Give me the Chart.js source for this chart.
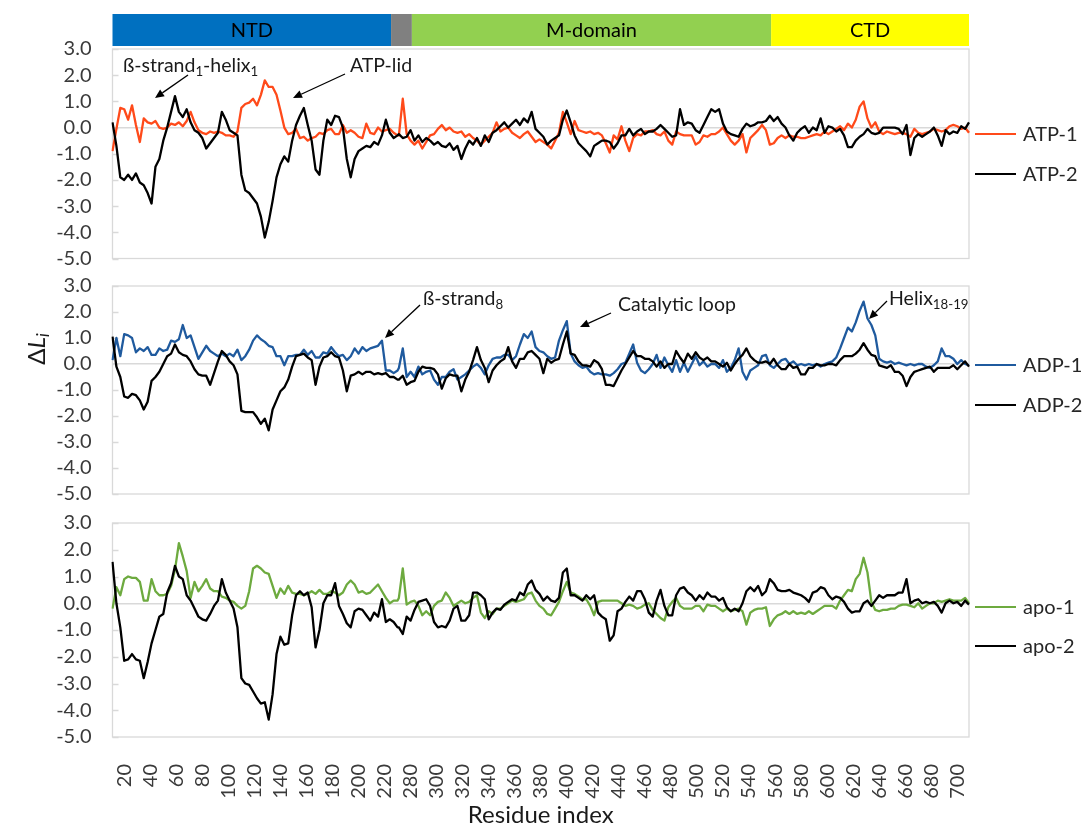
<!DOCTYPE html>
<html>
<head>
<meta charset="utf-8">
<script src="https://cdn.jsdelivr.net/npm/chart.js@4.4.1/dist/chart.umd.min.js"></script>
<style>
  html, body { margin: 0; padding: 0; background: #ffffff; }
  #wrap { position: relative; width: 1086px; height: 825px; background: #ffffff; overflow: hidden; }
  #wrap canvas { position: absolute; left: 0; }
</style>
</head>
<body>
<div id="wrap">
  <canvas id="panelATP" width="1086" height="300" style="top:0px"></canvas>
  <canvas id="panelADP" width="1086" height="300" style="top:240px"></canvas>
  <canvas id="panelApo" width="1086" height="345" style="top:480px"></canvas>
</div>
<script>
const FONT = 'Lato, "Open Sans", "DejaVu Sans", sans-serif';

// Residue numbering: the linker segment between the two ranges is not part of the profile
const segments = [[11, 230], [271, 709]];
// Profiles are tabulated at every third residue of each segment
const sampleStep = 3;

// Domain map drawn above the first panel (residue boundaries)
const domainNames  = ['NTD', '', 'M-domain', 'CTD'];
const domainStart  = [11, 225, 281, 557];
const domainEnd    = [225, 281, 557, 709];
const domainColors = ['#0070C0', '#808080', '#92D050', '#FFFF00'];

const yMin = -5, yMax = 3;

// ΔLi profiles (first 74 values: residues 11-230, next 147 values: residues 271-709)
const atp1 = [
  -0.9, -0.05, 0.75, 0.7, 0.3, 0.85, 0.1, -0.55, 0.35, 0.2,
  0.15, 0.25, 0.0, -0.05, 0.0, 0.15, 0.1, 0.2, 0.05, 0.25,
  0.6, 0.2, -0.1, -0.2, -0.25, -0.15, -0.2, -0.15, -0.2, -0.3,
  -0.3, -0.35, -0.15, 0.75, 0.9, 0.95, 1.1, 0.85, 1.25, 1.8,
  1.55, 1.55, 1.25, 0.65, 0.0, -0.25, -0.2, -0.05, -0.4, -0.35,
  -0.5, -0.4, -0.35, -0.2, -0.25, -0.1, -0.05, -0.25, -0.25, 0.1,
  -0.2, -0.1, -0.2, -0.35, -0.4, 0.15, -0.2, -0.25, 0.0, -0.15,
  -0.1, -0.05, -0.2, -0.3,
  -0.3, 1.1, -0.25, -0.5, -0.65, -0.5, -0.8, -0.55, -0.3, -0.25,
  -0.05, 0.1, -0.1, 0.0, -0.15, -0.2, -0.15, -0.35, -0.25, -0.4,
  -0.5, -0.65, -0.5, -0.35, -0.2, 0.2, -0.15, -0.05, 0.0, -0.2,
  -0.3, -0.4, -0.25, -0.15, -0.35, -0.55, -0.45,
  -0.55, -0.65, -0.8, -0.5, -0.2, 0.6, 0.2, -0.25, 0.25, -0.1,
  -0.15, -0.2, -0.15, -0.25, -0.2, -0.3, -0.6, -0.95, -0.3, -0.45,
  0.05, -0.5, -0.9, -0.4, -0.25, -0.3, -0.15, -0.15, -0.1, -0.25,
  -0.3, -0.15, -0.5, -0.65, -0.15, -0.25, -0.3, -0.3, -0.3, -0.65,
  -0.55, -0.3, -0.35, -0.25, -0.25, -0.15, 0.0, -0.25, -0.5, -0.65,
  -0.5, -0.25, -0.95, -0.4, -0.25, -0.1, 0.1, -0.1, -0.65, -0.6,
  -0.4, -0.3, -0.4, -0.3, -0.35, -0.35, -0.4, -0.4, -0.35, -0.3,
  -0.25, -0.3, -0.15, -0.25, -0.15, -0.05, 0.05, -0.1, 0.15, 0.0,
  0.3, 0.8, 1.0, 0.35, 0.0, 0.2, -0.15, -0.25, -0.15, -0.2,
  -0.25, -0.2, -0.2, -0.25, -0.35, -0.05, -0.2, -0.25, -0.2, -0.15,
  -0.05, -0.1, -0.15, -0.1, 0.05, 0.1, 0.05, -0.05, 0.0, -0.2
];
const atp2 = [
  0.2, -0.7, -1.9, -2.0, -1.8, -2.0, -1.75, -2.1, -2.2, -2.5,
  -2.9, -1.5, -1.2, -0.5, 0.0, 0.6, 1.2, 0.6, 0.4, 0.7,
  0.2, -0.1, -0.2, -0.4, -0.8, -0.6, -0.4, -0.2, 0.6, 0.3,
  -0.1, -0.2, -0.3, -1.8, -2.4, -2.5, -2.7, -2.9, -3.4, -4.2,
  -3.6, -2.8, -1.9, -1.4, -1.1, -1.3, -0.5, 0.1, 0.45, 0.75,
  0.1, -0.5, -1.6, -1.8, -0.5, 0.3, 0.1, 0.45, 0.4, 0.0,
  -1.2, -1.9, -1.2, -0.9, -0.8, -0.7, -0.75, -0.55, -0.65, -0.3,
  0.3, -0.2, -0.4, -0.3,
  -0.25, -0.4, -0.35, -0.1, -0.5, -0.3, -0.55, -0.4, -0.5, -0.65,
  -0.55, -0.7, -0.75, -0.6, -0.85, -0.7, -1.2, -0.8, -0.5, -0.65,
  -0.4, -0.7, -0.3, -0.55, -0.2, -0.1, 0.05, 0.2, 0.0, 0.15,
  0.3, 0.1, 0.35, 0.2, 0.6, -0.05, -0.2,
  -0.35, -0.65, -0.5, -0.4, -0.3, 0.3, 0.65, 0.2, -0.3, -0.6,
  -0.75, -0.9, -1.1, -0.7, -0.6, -0.5, -0.5, -0.55, -0.8, -0.6,
  -0.3, -0.3, -0.05, -0.3, -0.15, -0.05, -0.25, -0.15, -0.15, -0.05,
  0.1, -0.05, -0.2, -0.35, -0.3, 0.7, 0.1, 0.2, 0.15, -0.1,
  -0.2, 0.1, 0.4, 0.7, 0.6, 0.7, 0.15, -0.15, -0.25, -0.3,
  -0.35, -0.05, 0.15, 0.05, 0.1, 0.2, 0.2, 0.25, 0.45, 0.25,
  0.4, 0.15, 0.0, -0.3, -0.5, -0.2, -0.05, 0.05, -0.2, 0.0,
  -0.1, 0.35, -0.2, 0.05, 0.0, -0.15, -0.05, -0.3, -0.75, -0.75,
  -0.5, -0.35, -0.25, -0.05, -0.2, -0.25, -0.2, 0.0, 0.0, 0.0,
  0.0, -0.05, -0.25, 0.1, -1.05, -0.4, -0.25, -0.35, -0.25, -0.15,
  0.0, -0.3, -0.7, -0.1, -0.25, -0.15, -0.2, 0.05, -0.05, 0.2
];
const adp1 = [
  0.15, 1.0, 0.3, 1.15, 1.1, 1.0, 0.45, 0.6, 0.5, 0.65,
  0.35, 0.35, 0.6, 0.5, 0.55, 0.9, 0.85, 0.95, 1.5, 1.0,
  1.1, 0.65, 0.2, 0.45, 0.7, 0.5, 0.4, 0.3, 0.4, 0.3,
  0.4, 0.3, 0.55, 0.15, 0.3, 0.55, 0.9, 1.1, 0.95, 0.85,
  0.7, 0.65, 0.3, 0.3, -0.05, 0.3, 0.3, 0.35, 0.35, 0.55,
  0.35, 0.5, 0.25, 0.25, 0.45, 0.4, 0.65, 0.45, 0.3, 0.35,
  0.15, 0.3, 0.6, 0.4, 0.65, 0.5, 0.6, 0.65, 0.7, 0.9,
  -0.25, -0.25, -0.35, -0.25,
  -0.15, 0.6, -0.5, -0.3, -0.5, -0.1, -0.4, -0.3, -0.25, -0.6,
  -0.8, -0.5, -0.5, -0.3, -0.2, -0.6, -0.5, -0.4, -0.25, -0.1,
  0.0, -0.15, -0.4, -0.05, 0.2, 0.25, 0.25, 0.35, 0.35, 0.15,
  0.3, 0.75, 1.15, 1.0, 1.25, 0.65, 0.5,
  0.45, 0.3, 0.2, 0.25, 0.9, 1.3, 1.65, 0.4, 0.1, -0.05,
  -0.15, -0.1, -0.3, -0.4, -0.35, -0.4, -0.4, -0.45, -0.35, -0.2,
  0.0, 0.05, 0.4, 0.75, 0.05, -0.25, -0.35, -0.2, 0.0, 0.35,
  -0.15, 0.25, -0.05, -0.3, 0.15, -0.3, 0.05, -0.3, 0.0, 0.3,
  -0.05, 0.1, -0.1, 0.0, 0.0, -0.15, 0.15, -0.3, -0.15, 0.15,
  0.6, -0.3, -0.6, -0.25, -0.15, -0.05, 0.3, 0.35, -0.05, -0.15,
  0.0, 0.15, 0.2, 0.0, 0.1, -0.05, 0.0, -0.05, 0.0, -0.05,
  0.0, -0.1, 0.0, 0.05, 0.1, 0.25, 0.6, 1.0, 1.4, 1.25,
  1.6, 2.05, 2.4, 1.75, 1.5, 1.1, 0.2, 0.1, 0.05, 0.1,
  0.0, 0.05, 0.0, -0.05, 0.0, -0.05, 0.0, 0.0, -0.1, -0.15,
  -0.05, 0.1, 0.6, 0.3, 0.3, 0.2, 0.0, 0.15, 0.0, -0.05
];
const adp2 = [
  1.05, -0.1, -0.5, -1.25, -1.3, -1.15, -1.2, -1.4, -1.75, -1.45,
  -0.65, -0.5, -0.3, 0.0, 0.3, 0.4, 0.75, 0.45, 0.35, 0.3,
  0.1, -0.2, -0.4, -0.45, -0.45, -0.8, -0.35, 0.1, 0.5, 0.35,
  0.1, -0.05, -0.4, -1.8, -1.85, -1.85, -1.85, -2.05, -2.3, -2.1,
  -2.55, -1.75, -1.4, -1.05, -0.9, -0.6, -0.1, 0.3, 0.35, 0.4,
  0.25, 0.15, -0.8, -0.1, 0.25, 0.3, 0.45, 0.3, 0.25, -0.25,
  -1.05, -0.45, -0.4, -0.3, -0.4, -0.3, -0.3, -0.4, -0.35, -0.4,
  -0.35, -0.5, -0.5, -0.6,
  -0.6, -0.45, -0.8, -0.7, -0.65, -0.3, -0.1, -0.15, -0.15, -0.2,
  -0.4, -0.95, -0.55, -0.4, -0.45, -0.45, -1.05, -0.6, -0.3, 0.15,
  0.65, 0.15, -0.15, -0.7, -0.25, -0.05, 0.1, 0.2, 0.65, 0.1,
  -0.15, 0.2, 0.2, 0.45, 0.5, 0.35, 0.2,
  -0.35, 0.2, 0.05, 0.15, 0.2, 0.75, 1.25, 0.4, 0.35, 0.1,
  -0.05, -0.05, -0.1, 0.15, 0.05, -0.2, -0.8, -0.8, -0.85, -0.55,
  -0.25, 0.0, 0.25, 0.5, 0.3, 0.3, 0.2, 0.2, 0.1, -0.1,
  0.1, -0.15, 0.0, 0.0, 0.5, 0.25, 0.05, 0.4, 0.2, 0.45,
  0.25, 0.15, 0.25, 0.1, 0.1, 0.0, -0.1, 0.05, -0.25, 0.0,
  0.2, 0.35, 0.6, 0.3, 0.15, 0.05, 0.05, 0.1, 0.0, 0.2,
  -0.05, -0.2, -0.2, 0.0, -0.15, -0.1, -0.4, -0.4, -0.15, -0.15,
  0.0, -0.05, -0.05, 0.0, 0.0, -0.05, 0.15, 0.3, 0.3, 0.3,
  0.4, 0.55, 0.8, 0.55, 0.35, 0.3, -0.05, -0.1, -0.15, -0.05,
  -0.3, -0.3, -0.45, -0.85, -0.5, -0.3, -0.25, -0.2, -0.15, -0.1,
  -0.3, -0.15, -0.15, -0.15, -0.15, -0.05, -0.2, -0.05, 0.1, -0.1
];
const apo1 = [
  -0.2, 0.6, 0.3, 0.9, 1.0, 0.95, 0.95, 0.8, 0.1, 0.1,
  0.9, 0.45, 0.3, 0.3, 0.35, 0.65, 1.25, 2.25, 1.75, 1.2,
  0.2, 0.8, 0.45, 0.65, 0.9, 0.55, 0.45, 0.45, 0.25, 0.2,
  0.1, 0.05, -0.1, -0.2, -0.1, 0.45, 1.3, 1.4, 1.3, 1.15,
  1.1, 0.65, 0.2, 0.55, 0.35, 0.65, 0.4, 0.35, 0.35, 0.3,
  0.35, 0.45, 0.35, 0.5, 0.35, 0.35, 0.45, 0.4, 0.3, 0.4,
  0.7, 0.85, 0.7, 0.4, 0.45, 0.35, 0.4, 0.55, 0.7, 0.45,
  0.2, 0.0, 0.1, 0.1,
  0.2, 1.3, -0.05, 0.05, 0.1, -0.1, -0.45, -0.3, -0.45, -0.1,
  0.05, 0.1, 0.4, 0.2, -0.1, 0.0, 0.1, 0.0, 0.05, 0.2,
  0.3, -0.35, -0.55, -0.3, -0.4, -0.2, -0.2, -0.1, 0.0, 0.1,
  0.05, 0.1, 0.15, 0.35, 0.4, 0.1, -0.1,
  -0.2, -0.4, -0.45, -0.2, 0.05, 0.45, 0.8, 0.4, 0.35, 0.25,
  0.15, 0.15, -0.1, -0.45, 0.05, 0.1, 0.1, 0.1, 0.1, 0.1,
  0.0, -0.1, -0.05, -0.1, -0.2, -0.15, -0.05, 0.0, -0.25, -0.4,
  -0.55, -0.65, -0.15, 0.05, 0.2, -0.1, -0.2, -0.2, -0.2, -0.1,
  -0.1, -0.3, -0.05, -0.1, -0.1, -0.2, -0.3, -0.2, -0.3, -0.25,
  -0.2, -0.3, -0.8, -0.35, -0.25, -0.2, -0.2, -0.15, -0.85, -0.6,
  -0.45, -0.4, -0.3, -0.4, -0.3, -0.4, -0.35, -0.4, -0.3, -0.4,
  -0.3, -0.2, -0.1, -0.1, -0.1, -0.2, 0.1, 0.3, 0.5, 0.45,
  0.9, 1.1, 1.7, 1.15, 0.05, -0.25, -0.3, -0.25, -0.25, -0.2,
  -0.2, -0.1, -0.05, -0.05, -0.1, -0.15, 0.0, -0.2, -0.1, 0.0,
  0.0, 0.1, 0.05, 0.1, 0.15, 0.1, 0.1, 0.1, 0.2, 0.0
];
const apo2 = [
  1.55, 0.0, -0.9, -2.15, -2.1, -1.9, -2.1, -2.15, -2.8, -2.2,
  -1.5, -1.0, -0.5, -0.4, 0.4, 0.75, 1.4, 1.0, 0.9, 0.3,
  0.1, -0.2, -0.5, -0.6, -0.65, -0.4, -0.1, 0.1, 0.9, 0.4,
  0.1, -0.2, -0.9, -2.8, -3.0, -3.05, -3.3, -3.55, -3.75, -3.7,
  -4.35, -3.4, -1.9, -1.25, -1.55, -1.5, -0.45, 0.3, 0.45, 0.3,
  0.4, -0.15, -1.65, -1.0, 0.0, 0.3, 0.3, 0.75, -0.1, -0.4,
  -0.75, -0.9, -0.3, -0.2, -0.25, -0.45, -0.65, -0.35, -0.5, 0.15,
  -0.7, -0.6, -0.7, -0.9,
  -0.9, -1.15, -0.5, -0.65, -0.25, 0.05, 0.1, 0.15, -0.1, -0.7,
  -0.9, -0.85, -0.9, -0.65, -0.2, -0.1, -0.65, -0.65, -0.45, 0.4,
  0.4, 0.3, 0.15, -0.6, -0.35, -0.2, -0.25, -0.05, 0.05, 0.15,
  0.1, 0.4, 0.3, 0.7, 0.85, 0.5, 0.35,
  0.1, 0.25, 0.1, 0.05, 0.2, 1.15, 1.3, 0.3, 0.3, 0.2,
  0.1, 0.3, 0.15, 0.3, -0.35, -0.5, -0.6, -1.4, -1.2, -0.3,
  -0.2, 0.05, 0.25, 0.1, 0.45, 0.45, 0.15, -0.35, -0.5, 0.1,
  0.5, -0.1, -0.45, -0.45, 0.3, 0.55, 0.6, 0.4, 0.3, 0.1,
  0.3, 0.15, 0.4, 0.25, 0.25, 0.1, 0.2, -0.15, -0.3, -0.2,
  -0.3, 0.0, 0.45, 0.6, 0.45, 0.65, 0.3, 0.45, 0.9, 0.75,
  0.5, 0.45, 0.45, 0.5, 0.4, 0.35, 0.3, 0.2, 0.05, 0.4,
  0.45, 0.6, 0.55, 0.3, 0.15, 0.25, 0.2, 0.05, -0.2, -0.35,
  -0.3, -0.3, 0.0, 0.1, -0.1, 0.1, 0.3, 0.2, 0.3, 0.3,
  0.3, 0.4, 0.4, 0.9, 0.0, 0.1, 0.15, 0.0, 0.05, 0.0,
  0.05, -0.1, -0.35, 0.0, 0.1, 0.0, 0.05, -0.1, 0.1, -0.05
];

// Category labels (every residue) and the residues at which profiles are tabulated
const residues = [];
const sampleResidues = [];
segments.forEach(([a, b]) => {
  for (let r = a; r <= b; r++) residues.push(r);
  for (let r = a; r <= b; r += sampleStep) sampleResidues.push(r);
});

Chart.defaults.font.family = FONT;
Chart.defaults.color = '#3a3a3a';

const AXIS_GRAY = '#d9d9d9';

function points(values) {
  return sampleResidues.map((r, i) => ({ x: r, y: values[i] }));
}

function residuePixel(scale, r) {
  let idx = residues.indexOf(r);
  if (idx < 0) {
    idx = 0;
    while (idx < residues.length - 1 && residues[idx] < r) idx++;
  }
  return scale.getPixelForValue(idx);
}

function drawArrow(ctx, x1, y1, x2, y2) {
  const ang = Math.atan2(y2 - y1, x2 - x1);
  const head = 9, half = 4;
  const bx = x2 - head * Math.cos(ang), by = y2 - head * Math.sin(ang);
  ctx.save();
  ctx.strokeStyle = '#000'; ctx.fillStyle = '#000'; ctx.lineWidth = 1.3;
  ctx.beginPath(); ctx.moveTo(x1, y1); ctx.lineTo(bx, by); ctx.stroke();
  ctx.beginPath();
  ctx.moveTo(x2, y2);
  ctx.lineTo(bx + half * Math.sin(ang), by - half * Math.cos(ang));
  ctx.lineTo(bx - half * Math.sin(ang), by + half * Math.cos(ang));
  ctx.closePath(); ctx.fill();
  ctx.restore();
}

function richWidth(ctx, parts, size) {
  let w = 0;
  parts.forEach(p => {
    const s = p.sub ? size * 0.68 : size;
    ctx.font = (p.italic ? 'italic ' : '') + s + 'px ' + FONT;
    w += ctx.measureText(p.t).width;
  });
  return w;
}

function drawRich(ctx, parts, x, y, size, color) {
  ctx.save();
  ctx.fillStyle = color || '#1a1a1a';
  ctx.textAlign = 'left';
  ctx.textBaseline = 'middle';
  let cx = x;
  parts.forEach(p => {
    const s = p.sub ? size * 0.68 : size;
    ctx.font = (p.italic ? 'italic ' : '') + s + 'px ' + FONT;
    ctx.fillText(p.t, cx, y + (p.sub ? size * 0.3 : 0));
    cx += ctx.measureText(p.t).width;
  });
  ctx.restore();
}

// Each panel: canvas placement (top/height) and padding that puts the plot box in place
const panels = [
  {
    canvas: 'panelATP', top: 0, padTop: 49, padBottom: 41.5,
    series: [
      { label: 'ATP-1', values: atp1, color: '#FF4A1A' },
      { label: 'ATP-2', values: atp2, color: '#000000' }
    ],
    legendY: [134, 174],
    notes: [
      { parts: [{ t: 'ß-strand' }, { t: '1', sub: true }, { t: '-helix' }, { t: '1', sub: true }], x: 123, y: 66, arrow: [188, 75, 155, 98] },
      { parts: [{ t: 'ATP-lid' }], x: 350, y: 66, arrow: [345, 74, 293, 98] }
    ],
    domainBar: true
  },
  {
    canvas: 'panelADP', top: 240, padTop: 46, padBottom: 46,
    series: [
      { label: 'ADP-1', values: adp1, color: '#1F5A9E' },
      { label: 'ADP-2', values: adp2, color: '#000000' }
    ],
    legendY: [365, 405],
    notes: [
      { parts: [{ t: 'ß-strand' }, { t: '8', sub: true }], x: 423, y: 299, arrow: [420, 305, 385, 338] },
      { parts: [{ t: 'Catalytic loop' }], x: 618, y: 305, arrow: [611, 313, 580, 327] },
      { parts: [{ t: 'Helix' }, { t: '18-19', sub: true }], x: 889, y: 299, arrow: [887, 301, 869, 319] }
    ],
    yTitle: true
  },
  {
    canvas: 'panelApo', top: 480, padTop: 43, padBottom: 0,
    series: [
      { label: 'apo-1', values: apo1, color: '#6DAA3F' },
      { label: 'apo-2', values: apo2, color: '#000000' }
    ],
    legendY: [607, 646],
    notes: [],
    xAxis: true
  }
];

const decorPlugin = {
  id: 'decor',
  beforeDatasetsDraw(chart) {
    const { ctx, chartArea: a } = chart;
    const ys = chart.scales.y;
    ctx.save();
    ctx.strokeStyle = AXIS_GRAY;
    ctx.lineWidth = 1.3;
    ctx.strokeRect(a.left, a.top, a.right - a.left, a.bottom - a.top);
    ctx.beginPath();
    ys.ticks.forEach(t => {
      const py = Math.round(ys.getPixelForValue(t.value)) + 0.5;
      ctx.moveTo(a.left, py); ctx.lineTo(a.left + 6, py);
    });
    ctx.stroke();
    ctx.restore();
  },
  afterDraw(chart) {
    const cfg = chart.options.plugins.decor;
    const { ctx, chartArea: a } = chart;
    const xs = chart.scales.x;
    const off = cfg.top;

    // legend at the right of the plot
    ctx.save();
    cfg.series.forEach((s, i) => {
      const y = cfg.legendY[i] - off;
      ctx.strokeStyle = s.color; ctx.lineWidth = 2.2;
      ctx.beginPath(); ctx.moveTo(975, y); ctx.lineTo(1016, y); ctx.stroke();
      ctx.fillStyle = '#262626';
      ctx.font = '20px ' + FONT;
      ctx.textAlign = 'left'; ctx.textBaseline = 'middle';
      ctx.fillText(s.label, 1023, y + 1);
    });
    ctx.restore();

    // callouts
    cfg.notes.forEach(n => {
      drawRich(ctx, n.parts, n.x, n.y - off, 19.5, '#1a1a1a');
      const [x1, y1, x2, y2] = n.arrow;
      drawArrow(ctx, x1, y1 - off, x2, y2 - off);
    });

    // domain map
    if (cfg.domainBar) {
      ctx.save();
      domainNames.forEach((name, i) => {
        const x0 = residuePixel(xs, domainStart[i]);
        const x1 = residuePixel(xs, domainEnd[i]);
        ctx.fillStyle = domainColors[i];
        ctx.fillRect(x0, 14, x1 - x0, 32);
        if (name) {
          ctx.fillStyle = '#000';
          ctx.font = '20px ' + FONT;
          ctx.textAlign = 'center'; ctx.textBaseline = 'middle';
          ctx.fillText(name, (x0 + x1) / 2, 31);
        }
      });
      ctx.restore();
    }

    // shared y-axis title
    if (cfg.yTitle) {
      const parts = [{ t: 'Δ' }, { t: 'L', italic: true }, { t: 'i', italic: true, sub: true }];
      ctx.save();
      ctx.translate(37, 349 - off);
      ctx.rotate(-Math.PI / 2);
      const w = richWidth(ctx, parts, 24);
      drawRich(ctx, parts, -w / 2, 0, 24, '#1a1a1a');
      ctx.restore();
    }

    // x-axis title
    if (cfg.xAxis) {
      ctx.save();
      ctx.fillStyle = '#1a1a1a';
      ctx.font = '24px ' + FONT;
      ctx.textAlign = 'center'; ctx.textBaseline = 'middle';
      ctx.fillText('Residue index', (a.left + a.right) / 2, 815 - off);
      ctx.restore();
    }
  }
};

panels.forEach(p => {
  const el = document.getElementById(p.canvas);
  const xScale = {
    type: 'category',
    display: !!p.xAxis,
    offset: false,
    grid: { display: false },
    border: { display: false },
    ticks: {
      autoSkip: false,
      minRotation: 90,
      maxRotation: 90,
      padding: 19,
      font: { size: 20 },
      color: '#3a3a3a',
      callback: (v, i) => (residues[i] % 20 === 0 ? String(residues[i]) : '')
    }
  };
  if (p.xAxis) xScale.afterFit = s => { s.height = 88; };

  new Chart(el, {
    type: 'line',
    data: {
      labels: residues,
      datasets: p.series.map((s, i) => ({
        label: s.label,
        data: points(s.values),
        borderColor: s.color,
        backgroundColor: s.color,
        borderWidth: 2.3,
        pointRadius: 0,
        tension: 0,
        borderJoinStyle: 'round',
        fill: false,
        order: i === 0 ? 1 : 0
      }))
    },
    options: {
      responsive: false,
      animation: false,
      events: [],
      layout: { padding: { left: 50.5, right: 117, top: p.padTop, bottom: p.padBottom } },
      plugins: {
        legend: { display: false },
        tooltip: { enabled: false },
        decor: p
      },
      scales: {
        x: xScale,
        y: {
          min: yMin,
          max: yMax,
          grid: {
            drawTicks: false,
            lineWidth: 1.5,
            color: c => (c.tick && c.tick.value === 0 ? AXIS_GRAY : 'rgba(0,0,0,0)')
          },
          border: { display: false },
          ticks: {
            stepSize: 1,
            autoSkip: false,
            padding: 21,
            font: { size: 20 },
            color: '#3a3a3a',
            callback: v => Number(v).toFixed(1)
          },
          afterFit: s => { s.width = 62; }
        }
      }
    },
    plugins: [decorPlugin]
  });
});
</script>
</body>
</html>
